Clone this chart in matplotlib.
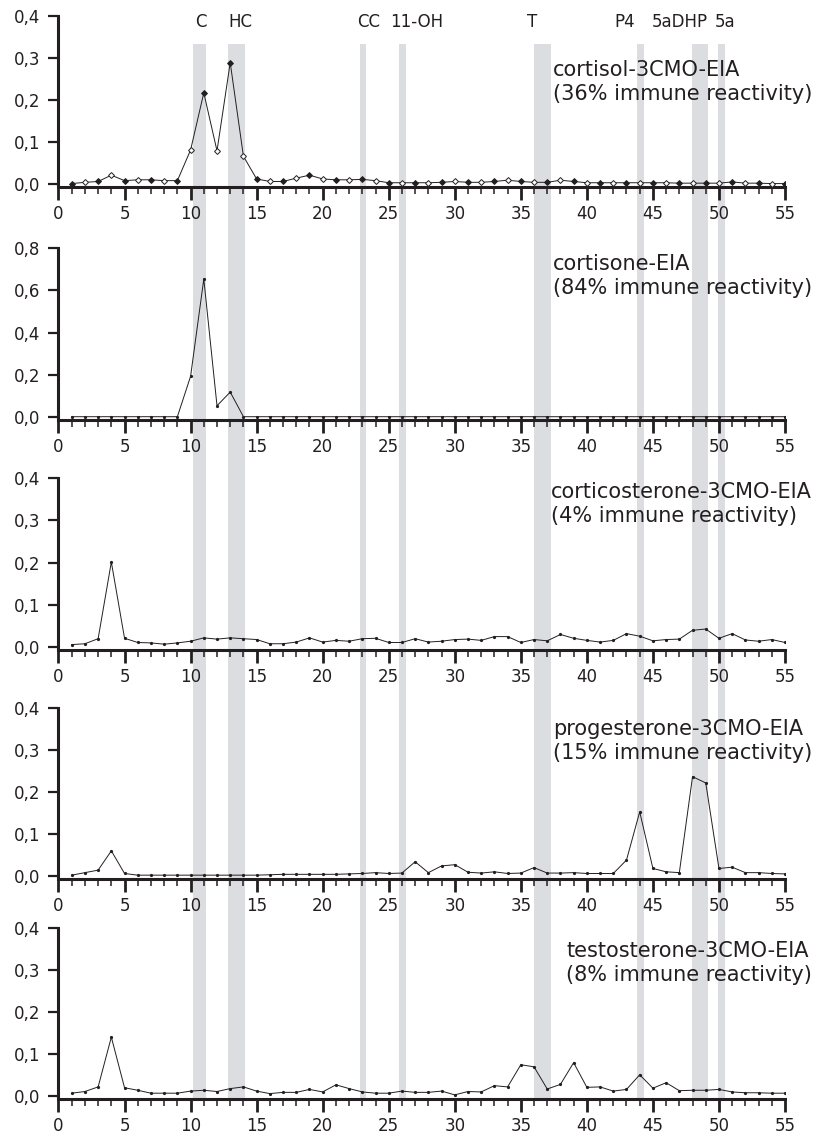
import numpy as np
import matplotlib.pyplot as plt
from matplotlib.patches import Rectangle
from matplotlib.transforms import blended_transform_factory

plt.rcParams['font.family'] = ['DejaVu Sans']

##################################################
## data (fractions 1-55)
##################################################
fraction = np.arange(1, 56)

cortisol = [0.001, 0.004, 0.006, 0.021, 0.008, 0.010, 0.010, 0.008, 0.008, 0.081,
            0.217, 0.079, 0.289, 0.066, 0.012, 0.006, 0.006, 0.014, 0.021, 0.012,
            0.010, 0.010, 0.011, 0.008, 0.003, 0.003, 0.003, 0.003, 0.004, 0.006,
            0.004, 0.004, 0.006, 0.009, 0.006, 0.004, 0.004, 0.009, 0.006, 0.003,
            0.003, 0.003, 0.003, 0.003, 0.003, 0.003, 0.002, 0.002, 0.002, 0.002,
            0.005, 0.002, 0.002, 0.001, 0.001]

cortisone = [0.0, 0.0, 0.0, 0.0, 0.0, 0.0, 0.0, 0.0, 0.0, 0.192,
             0.654, 0.052, 0.117, 0.0, 0.0, 0.0, 0.0, 0.0, 0.0, 0.0,
             0.0, 0.0, 0.0, 0.0, 0.0, 0.0, 0.0, 0.0, 0.0, 0.0,
             0.0, 0.0, 0.0, 0.0, 0.0, 0.0, 0.0, 0.0, 0.0, 0.0,
             0.0, 0.0, 0.0, 0.0, 0.0, 0.0, 0.0, 0.0, 0.0, 0.0,
             0.0, 0.0, 0.0, 0.0, 0.0]

corticosterone = [0.005, 0.007, 0.019, 0.201, 0.020, 0.010, 0.009, 0.006, 0.009, 0.013,
                  0.021, 0.018, 0.021, 0.019, 0.017, 0.007, 0.007, 0.011, 0.021, 0.011,
                  0.015, 0.013, 0.019, 0.020, 0.010, 0.010, 0.019, 0.011, 0.013, 0.017,
                  0.018, 0.015, 0.024, 0.024, 0.010, 0.017, 0.014, 0.029, 0.020, 0.015,
                  0.011, 0.015, 0.031, 0.025, 0.014, 0.017, 0.018, 0.039, 0.042, 0.020,
                  0.031, 0.016, 0.013, 0.017, 0.010]

progesterone = [0.002, 0.008, 0.014, 0.060, 0.006, 0.002, 0.002, 0.002, 0.002, 0.002,
                0.002, 0.002, 0.002, 0.002, 0.002, 0.003, 0.004, 0.004, 0.004, 0.004,
                0.004, 0.005, 0.006, 0.008, 0.006, 0.007, 0.034, 0.008, 0.024, 0.027,
                0.009, 0.007, 0.010, 0.006, 0.007, 0.020, 0.007, 0.007, 0.008, 0.006,
                0.006, 0.006, 0.038, 0.153, 0.018, 0.010, 0.008, 0.237, 0.222, 0.018,
                0.021, 0.008, 0.008, 0.006, 0.005]

testosterone = [0.006, 0.010, 0.021, 0.140, 0.019, 0.013, 0.006, 0.006, 0.006, 0.011,
                0.013, 0.010, 0.017, 0.021, 0.011, 0.005, 0.008, 0.008, 0.015, 0.009,
                0.026, 0.017, 0.009, 0.006, 0.006, 0.011, 0.008, 0.008, 0.011, 0.002,
                0.010, 0.009, 0.024, 0.021, 0.074, 0.069, 0.016, 0.027, 0.079, 0.020,
                0.021, 0.011, 0.015, 0.050, 0.018, 0.031, 0.012, 0.013, 0.013, 0.015,
                0.009, 0.007, 0.007, 0.006, 0.006]

series = [cortisol, cortisone, corticosterone, progesterone, testosterone]

panel_titles = ['cortisol-3CMO-EIA\n(36% immune reactivity)',
                'cortisone-EIA\n(84% immune reactivity)',
                'corticosterone-3CMO-EIA\n(4% immune reactivity)',
                'progesterone-3CMO-EIA\n(15% immune reactivity)',
                'testosterone-3CMO-EIA\n(8% immune reactivity)']

y_ticks = [[0.0, 0.1, 0.2, 0.3, 0.4],
           [0.0, 0.2, 0.4, 0.6, 0.8],
           [0.0, 0.1, 0.2, 0.3, 0.4],
           [0.0, 0.1, 0.2, 0.3, 0.4],
           [0.0, 0.1, 0.2, 0.3, 0.4]]
x_ticks = [0, 5, 10, 15, 20, 25, 30, 35, 40, 45, 50, 55]

# reference standards: name, label position and elution band (fractions)
standard_names = ['C', 'HC', 'CC', '11-OH', 'T', 'P4', '5aDHP', '5a']
standard_label_x = [10.75, 13.75, 23.45, 27.1, 35.85, 42.85, 47.05, 50.45]
standard_bands = [(10.15, 11.2), (12.8, 14.1), (22.8, 23.3), (25.75, 26.3),
                  (36.0, 37.3), (43.8, 44.3), (47.95, 49.2), (49.9, 50.45)]

##################################################
## layout (pixels of the 816 x 1137 figure)
##################################################
W, H = 816, 1137
x0_px, x55_px = 58.5, 785.0
zero_px = [184.0, 416.7, 646.7, 876.0, 1095.7]
top_px = [16.0, 248.3, 478.3, 708.3, 928.3]
title_top_px = [60, 254, 482, 719, 941]
drop = 3.0          # x axis sits a bit below the 0 line

ink = '#231f20'
band_col = '#dcdde0'

fig = plt.figure(figsize=(W / 100, H / 100), dpi=100)

axes = []
for i in range(5):
    ymax = y_ticks[i][-1]
    per_px = ymax / (zero_px[i] - top_px[i])
    bottom = 1 - (zero_px[i] + drop) / H
    height = (zero_px[i] + drop - top_px[i]) / H
    ax = fig.add_axes([x0_px / W, bottom, (x55_px - x0_px) / W, height])
    ax.set_facecolor('none')

    if i == 0:
        # cortisol: alternating filled / open diamonds
        ax.plot(fraction, series[i], color=ink, lw=0.7, zorder=3)
        odd = fraction % 2 == 1
        vals = np.array(series[i])
        ax.plot(fraction[odd], vals[odd], ls='none', marker='D', ms=3.0,
                mfc=ink, mec=ink, mew=0.7, zorder=4)
        ax.plot(fraction[~odd], vals[~odd], ls='none', marker='D', ms=3.0,
                mfc='white', mec=ink, mew=0.7, zorder=4)
    else:
        ax.plot(fraction, series[i], color=ink, lw=0.7, marker='o', ms=1.3,
                zorder=3)

    ax.set_xlim(0, 55)
    ax.set_ylim(-drop * per_px, ymax)
    ax.set_xticks(x_ticks)
    ax.set_xticks(range(0, 56), minor=True)
    ax.set_yticks(y_ticks[i])
    ax.set_yticklabels([('%.1f' % v).replace('.', ',') for v in y_ticks[i]])

    for s in ['top', 'right']:
        ax.spines[s].set_visible(False)
    for s in ['left', 'bottom']:
        ax.spines[s].set_linewidth(2.2)
        ax.spines[s].set_color(ink)
    ax.spines['left'].set_bounds(0, ymax)

    ax.tick_params(axis='x', which='major', direction='out', length=9.5,
                   width=2.0, color=ink, labelsize=12, labelcolor=ink, pad=3.5)
    ax.tick_params(axis='x', which='minor', direction='out', length=5,
                   width=1.1, color=ink)
    ax.tick_params(axis='y', which='major', direction='out', length=7,
                   width=1.6, color=ink, labelsize=12, labelcolor=ink, pad=6)

    fig.text(812 / W, 1 - title_top_px[i] / H, panel_titles[i], ha='right',
             va='top', multialignment='left', fontsize=15, color=ink,
             linespacing=1.22)
    axes.append(ax)

# grey bands of the standards, running through all panels
tr = blended_transform_factory(axes[0].transData, fig.transFigure)
band_top = 1 - 44 / H
band_bottom = 1 - (zero_px[-1] + drop + 1) / H
for (a, b) in standard_bands:
    rect = Rectangle((a, band_bottom), b - a, band_top - band_bottom,
                     transform=tr, facecolor=band_col, edgecolor='none',
                     zorder=-1)
    fig.add_artist(rect)

for name, xs in zip(standard_names, standard_label_x):
    fig.text(xs, 1 - 13 / H, name, transform=tr, ha='center', va='top',
             fontsize=12, color=ink)

fig.savefig('out.png', dpi=100)
